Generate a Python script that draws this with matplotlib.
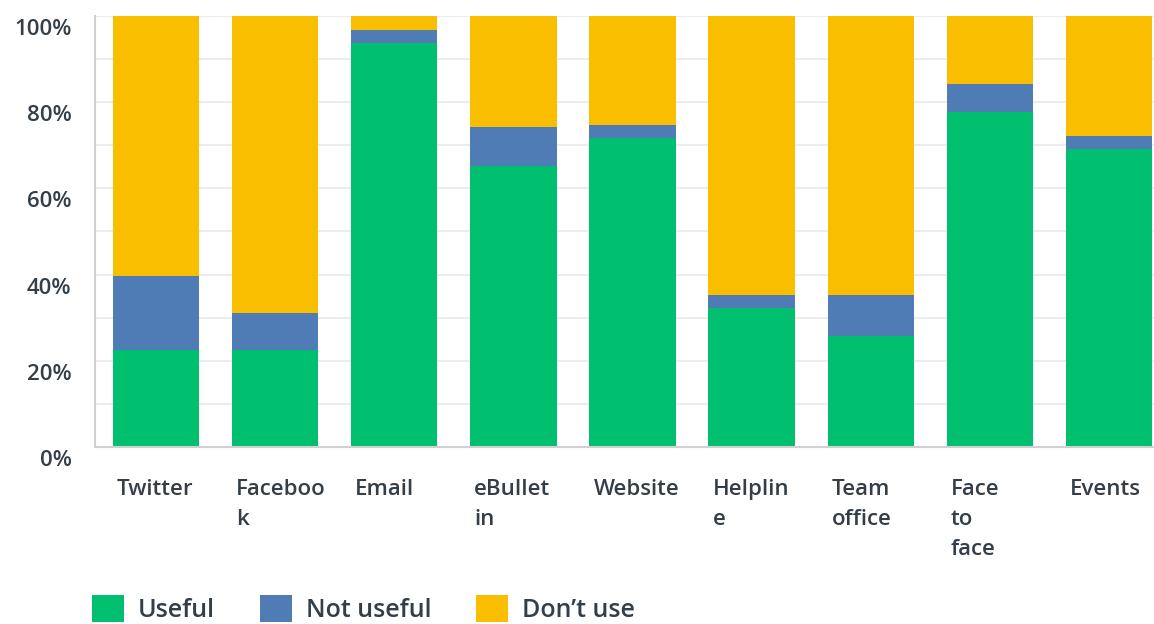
import numpy as np
import matplotlib.pyplot as plt
from matplotlib.patches import Patch
from matplotlib.transforms import ScaledTranslation

channels = ["Twitter", "Faceboo\nk", "Email", "eBullet\nin", "Website",
            "Helplin\ne", "Team\noffice", "Face\nto\nface", "Events"]
useful = [22.6, 22.6, 93.8, 65.3, 71.8, 32.2, 25.7, 77.7, 69.2]
not_useful = [17.1, 8.6, 3.0, 8.9, 2.9, 3.0, 9.5, 6.6, 3.0]
dont_use = [60.3, 68.8, 3.2, 25.8, 25.3, 64.8, 64.8, 15.7, 27.8]

series_names = ["Useful", "Not useful", "Don\u2019t use"]
colors = ["#00bf6f", "#507cb6", "#f9be00"]
text_color = "#333e48"


def main():
    plt.rcParams["font.family"] = ["Open Sans", "DejaVu Sans"]
    fig = plt.figure(figsize=(11.54, 6.24), dpi=100)
    ax = fig.add_axes([95 / 1154, 177 / 624, 1075 / 1154, 431 / 624])

    x = np.arange(len(channels))
    bottom = np.zeros(len(channels))
    for vals, col in zip([useful, not_useful, dont_use], colors):
        ax.bar(x, vals, width=0.725, bottom=bottom, color=col, zorder=2)
        bottom += np.array(vals)

    ax.set_xlim(-0.51, len(channels) - 0.49)
    ax.set_ylim(0, 100)
    ax.set_yticks(np.arange(0, 101, 20))
    ax.set_yticklabels([f"{v}%" for v in range(0, 101, 20)])
    ax.set_yticks(np.arange(0, 101, 10), minor=True)
    ax.grid(axis="y", which="both", color="#ececec", linewidth=1.5, zorder=0)
    ax.tick_params(axis="y", which="both", length=0, pad=17,
                   labelsize=16, labelcolor=text_color)

    ax.set_xticks(x)
    ax.set_xticklabels(channels, ha="left", va="top", linespacing=1.55)
    ax.tick_params(axis="x", length=0, pad=23, labelsize=16,
                   labelcolor=text_color)

    for lbl in ax.get_yticklabels():
        lbl.set_fontweight("semibold")
        lbl.set_transform(lbl.get_transform() +
                          ScaledTranslation(0, -0.11, fig.dpi_scale_trans))
    for lbl in ax.get_xticklabels():
        lbl.set_fontweight("semibold")
        lbl.set_transform(lbl.get_transform() +
                          ScaledTranslation(-0.39, 0, fig.dpi_scale_trans))

    for side in ["top", "right"]:
        ax.spines[side].set_visible(False)
    ax.spines["left"].set_color("#d0d0d0")
    ax.spines["bottom"].set_color("#d0d0d0")
    ax.spines["left"].set_linewidth(1.5)
    ax.spines["bottom"].set_linewidth(1.5)

    handles = [Patch(facecolor=c, label=n) for c, n in zip(colors, series_names)]
    leg = fig.legend(handles=handles, loc="upper left", ncol=3,
                     bbox_to_anchor=(92 / 1154, 1 - 595 / 624),
                     frameon=False, fontsize=18, handlelength=1.28,
                     handleheight=1.28, handletextpad=0.55,
                     columnspacing=1.8, borderpad=0, borderaxespad=0)
    for t in leg.get_texts():
        t.set_color(text_color)
        t.set_fontweight("semibold")

    plt.savefig("out.png", dpi=100)


if __name__ == "__main__":
    main()
